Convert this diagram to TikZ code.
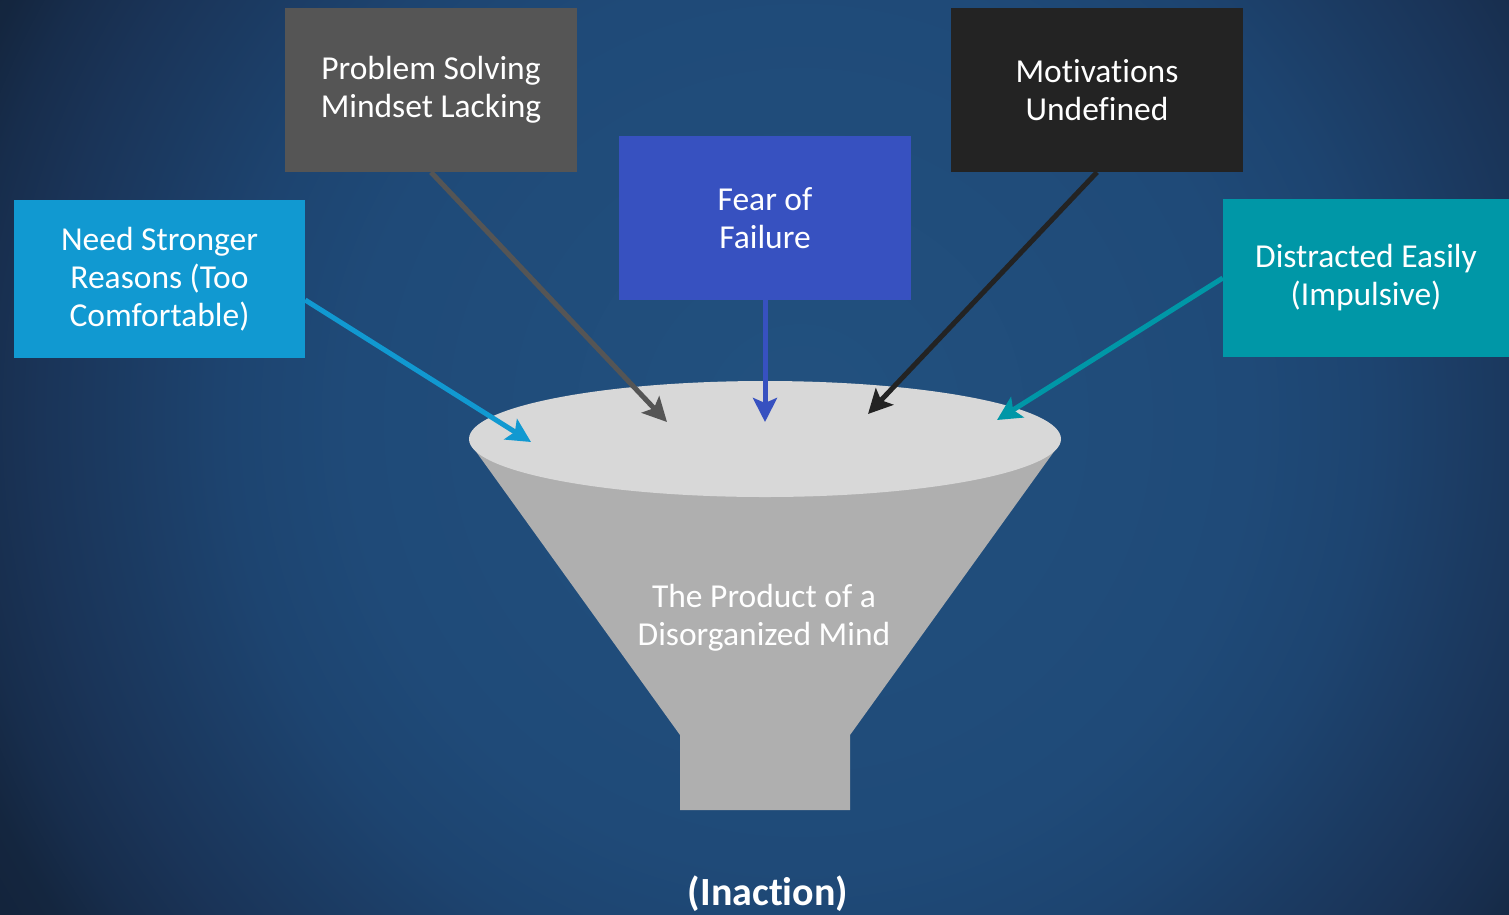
\documentclass[tikz,border=0pt]{standalone}
\usepackage{fontspec}
\setmainfont{Carlito}[Ligatures=NoCommon]
\usetikzlibrary{arrows.meta}
\definecolor{bg0}{HTML}{22517F}
\definecolor{bg1}{HTML}{1F4A78}
\definecolor{bg2}{HTML}{1D4470}
\definecolor{bg3}{HTML}{1A3458}
\definecolor{bg4}{HTML}{172D4C}
\definecolor{bg5}{HTML}{14263F}
\definecolor{bg6}{HTML}{13233B}
\definecolor{cNSR}{HTML}{1199D1}
\definecolor{cPSM}{HTML}{555555}
\definecolor{cFOF}{HTML}{3751C0}
\definecolor{cMU}{HTML}{232323}
\definecolor{cDE}{HTML}{0097A7}
\definecolor{funtop}{HTML}{D8D8D8}
\definecolor{funbody}{HTML}{AFAFAF}
\pgfdeclareradialshading{bgshade}{\pgfpoint{0bp}{0bp}}{color(0bp)=(bg0); color(11.8bp)=(bg1); color(15bp)=(bg2); color(20bp)=(bg3); color(22bp)=(bg4); color(23.5bp)=(bg5); color(25bp)=(bg6); color(50bp)=(bg6)}
\tikzset{
  box/.style={rectangle, minimum width=292pt, minimum height=164pt, inner sep=0pt, text=white, align=center, font=\fontsize{33.5}{38}\selectfont},
  conn/.style={line width=5pt, -{Stealth[length=24pt,width=24pt,inset=5pt]}},
}
\begin{document}
\begin{tikzpicture}[x=1pt,y=-1pt]
\useasboundingbox (0,0) rectangle (1509,914);
\begin{scope}
\clip (0,0) rectangle (1509,914);
\fill[shading=bgshade] (800,420) circle [radius=950pt];
\end{scope}
% boxes
\node[box, fill=cNSR, minimum width=291pt, minimum height=158pt] (nsr) at (159.5,279) {Need Stronger\\Reasons (Too\\Comfortable)};
\node[box, fill=cPSM] (psm) at (431,90) {Problem Solving\\Mindset Lacking};
\node[box, fill=cFOF] (fof) at (765,218) {Fear of\\Failure};
\node[box, fill=cMU] (mu) at (1097,90) {Motivations\\Undefined};
\node[box, fill=cDE, minimum width=286pt, minimum height=158pt] (de) at (1366,278) {Distracted Easily\\(Impulsive)};
% funnel
\fill[funbody] (472,446) -- (1058,446) -- (850,735) -- (850,810) -- (680,810) -- (680,735) -- cycle;
\fill[funtop] (765,439) ellipse [x radius=296, y radius=58];
\node[text=white, align=center, font=\fontsize{33.5}{38}\selectfont] (prod) at (764,618) {The Product of a\\Disorganized Mind};
\node[text=white, font=\fontsize{40}{44}\selectfont\bfseries] (inact) at (768,894) {(Inaction)};
% arrow targets
\coordinate (t1) at (531,442);
\coordinate (t2) at (667,422);
\coordinate (t3) at (765,422);
\coordinate (t4) at (868,414);
\coordinate (t5) at (997,420);
\draw[conn, cNSR] ([yshift=-21pt]nsr.east) -- (t1);
\draw[conn, cPSM] (psm.south) -- (t2);
\draw[conn, cFOF] (fof.south) -- (t3);
\draw[conn, cMU] (mu.south) -- (t4);
\draw[conn, cDE] (de.west) -- (t5);
\end{tikzpicture}
\end{document}
